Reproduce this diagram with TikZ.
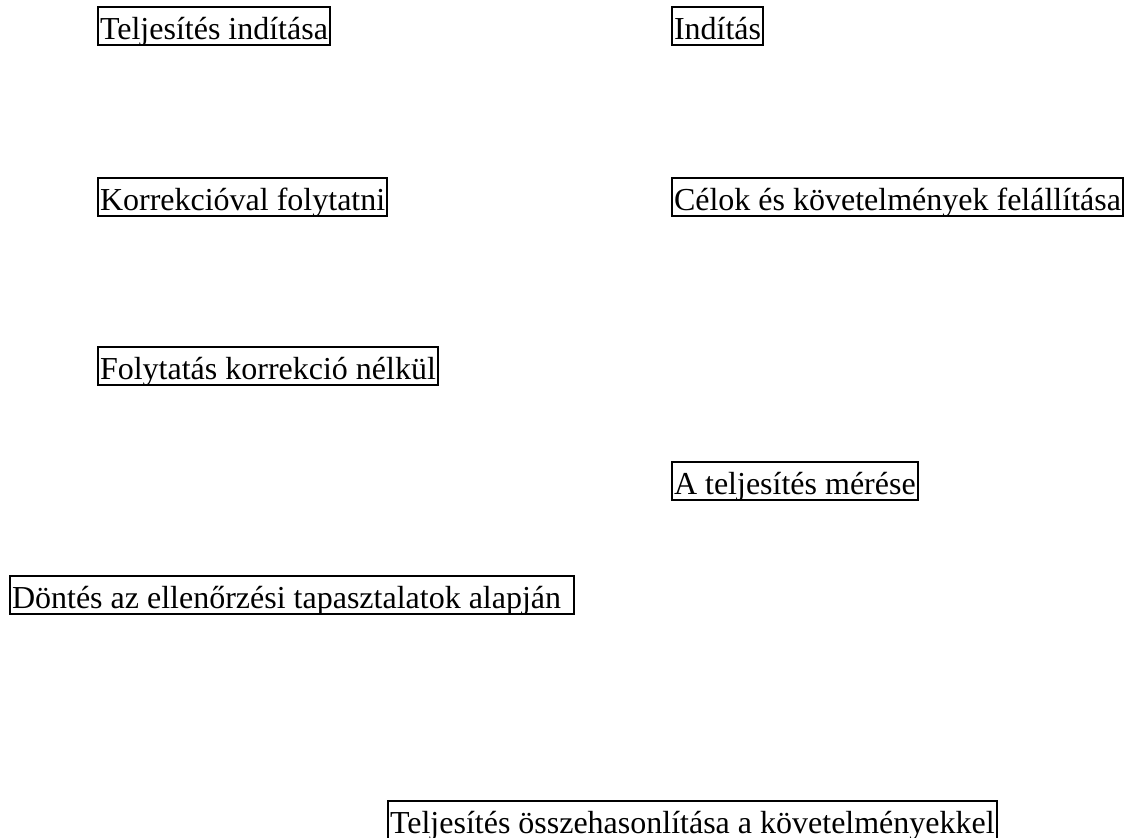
\documentclass[tikz,border=0pt]{standalone}
\usepackage{fontspec}
\setmainfont{Liberation Serif}
\usetikzlibrary{positioning}

\begin{document}
\begin{tikzpicture}[
                x = 0.5pt, y = -0.5pt,
                TextBox/.style={draw, line width=1pt, anchor=north west, font=\fontsize{16pt}{19pt}\selectfont,
                    inner xsep=1pt, inner ysep=0pt, text height=16pt, text depth=3pt, outer sep=0pt},
            ]
            \useasboundingbox (0,0) rectangle (1125,837);

            % left column
            \node [TextBox] (telj) at (98,7) {Teljesítés indítása};
            \node [TextBox] (korr) at (98,178) {Korrekcióval folytatni};
            \node [TextBox] (folyt) at (98,347) {Folytatás korrekció nélkül};
            \node [TextBox] (dont) at (10,576) {Döntés az ellenőrzési tapasztalatok alapján\hspace*{5.5pt}};

            % right column
            \node [TextBox] (indit) at (672,7) {Indítás};
            \node [TextBox] (celok) at (672,178) {Célok és követelmények felállítása};
            \node [TextBox] (meres) at (672,462) {A teljesítés mérése};

            \node [TextBox] (ossze) at (388,801) {Teljesítés összehasonlítása a követelményekkel};
        \end{tikzpicture}
\end{document}
